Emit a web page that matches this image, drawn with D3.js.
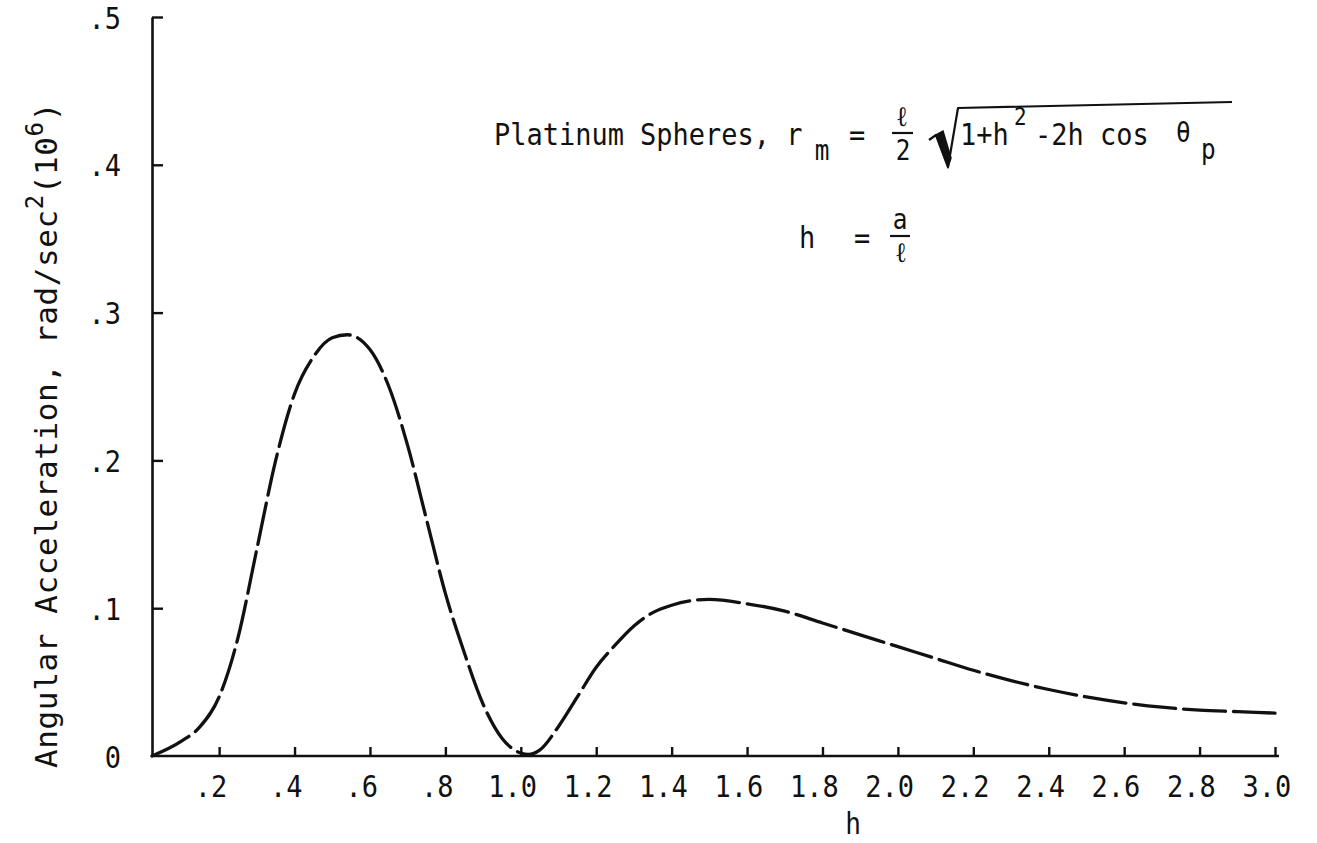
<!DOCTYPE html>
<html><head><meta charset="utf-8">
<script src="https://cdn.jsdelivr.net/npm/d3@7"></script>
<style>body{margin:0;background:#fff}svg{display:block}</style>
</head><body><svg id="c" width="1317" height="843"></svg>
<script>
// ---- data ----
const hValues     = [0.022,0.10,0.15,0.20,0.25,0.30,0.35,0.40,0.45,0.50,0.54,0.60,0.65,0.70,0.75,0.80,0.85,0.90,0.95,1.00,1.02,1.05,1.10,1.15,1.20,1.25,1.30,1.35,1.40,1.45,1.50,1.60,1.70,1.80,1.90,2.00,2.10,2.20,2.30,2.40,2.50,2.60,2.70,2.80,2.90,3.00];
const accelValues = [0.000,0.010,0.020,0.040,0.080,0.140,0.200,0.245,0.270,0.283,0.285,0.275,0.250,0.210,0.160,0.110,0.070,0.035,0.012,0.002,0.001,0.004,0.020,0.040,0.060,0.075,0.088,0.097,0.102,0.105,0.106,0.103,0.098,0.090,0.082,0.074,0.066,0.058,0.051,0.045,0.040,0.036,0.033,0.031,0.030,0.029];
const xTickValues = [0.2,0.4,0.6,0.8,1.0,1.2,1.4,1.6,1.8,2.0,2.2,2.4,2.6,2.8,3.0];
const xTickLabels = [".2",".4",".6",".8","1.0","1.2","1.4","1.6","1.8","2.0","2.2","2.4","2.6","2.8","3.0"];
const yTickValues = [0,0.1,0.2,0.3,0.4,0.5];
const yTickLabels = ["0",".1",".2",".3",".4",".5"];

const FONT = "'DejaVu Sans Mono', monospace";
const INK = "#111";
const SX = 0.87;               // narrow typewriter letters
const svg = d3.select("#c");

const x = d3.scaleLinear().domain([0.022, 3.0]).range([152, 1275]);
const y = d3.scaleLinear().domain([0, 0.5]).range([756, 17]);

// x axis
const xAxis = d3.axisBottom(x).tickValues(xTickValues)
  .tickFormat((d,i)=>xTickLabels[i]).tickSizeInner(-9).tickSizeOuter(0);
const gx = svg.append("g").attr("transform", `translate(0,${y(0)})`).call(xAxis);
gx.select(".domain").attr("d", `M${x.range()[0]},0H${x.range()[1]+4}`);

// y axis
const yAxis = d3.axisLeft(y).tickValues(yTickValues)
  .tickFormat((d,i)=>yTickLabels[i]).tickSizeInner(-11).tickSizeOuter(0).tickPadding(31);
const gy = svg.append("g").attr("transform", `translate(${x.range()[0]},0)`).call(yAxis);

[gx, gy].forEach(g=>{
  g.select(".domain").attr("stroke", INK).attr("stroke-width", 2.6);
  g.selectAll(".tick line").attr("stroke", INK).attr("stroke-width", 2.4);
  g.selectAll(".tick text").attr("fill", INK).style("font-family", FONT).style("font-size", "31px");
});
gx.selectAll(".tick text").attr("y", 41).attr("dy", null).attr("dx", -10)
  .attr("transform", `scale(${SX},1)`);
gy.selectAll(".tick text").attr("dy", "0.36em").attr("transform", `scale(${SX},1)`)
  .attr("x", -31 / SX);
gy.selectAll(".tick").filter(d=>d===0).select("line").remove();

// curve
const pts = hValues.map((h,i)=>[h, accelValues[i]]);
const line = d3.line().x(d=>x(d[0])).y(d=>y(d[1])).curve(d3.curveMonotoneX);
svg.append("path").datum(pts).attr("d", line)
  .attr("fill","none").attr("stroke",INK).attr("stroke-width",3.3)
  .attr("stroke-dasharray","42,8").attr("stroke-linecap","round");

// text helper (narrow letters)
function txt(parent, px, py, s, size, anchor){
  const g = parent.append("g").attr("transform", `translate(${px},${py}) scale(${SX},1)`);
  return g.append("text").attr("text-anchor", anchor||"start")
    .style("font-family",FONT).style("font-size", size+"px").attr("fill",INK).text(s);
}

// axis titles
txt(svg, 853, 834, "h", 30, "middle");

const yt = svg.append("g").attr("transform","translate(57,435) rotate(-90)")
  .append("text").attr("text-anchor","middle").style("letter-spacing","0.6px")
  .style("font-family",FONT).style("font-size","31px").attr("fill",INK);
yt.append("tspan").text("Angular Acceleration, rad/sec");
yt.append("tspan").attr("dy",-14).style("font-size","24px").text("2");
yt.append("tspan").attr("dy",14).text("(10");
yt.append("tspan").attr("dy",-14).style("font-size","24px").text("6");
yt.append("tspan").attr("dy",14).text(")");

// annotation line 1
const A = svg.append("g");
const BL = 145;
txt(A, 494, BL, "Platinum Spheres, r", 31);
txt(A, 822, BL+15, "m", 28, "middle");
txt(A, 857, BL, "=", 31, "middle");
txt(A, 902, BL-19, "ℓ", 28, "middle");
A.append("line").attr("x1",892).attr("x2",913).attr("y1",BL-12).attr("y2",BL-12).attr("stroke",INK).attr("stroke-width",2.2);
txt(A, 903, BL+15, "2", 28, "middle");
// radical sign
A.append("path").attr("d","M929,140 L936,135 L948,167 L958,108 L1232,102")
  .attr("fill","none").attr("stroke",INK).attr("stroke-width",2.2).attr("stroke-linejoin","round");
A.append("path").attr("d","M936,135 L943,131 L951,158 L948,167 Z").attr("fill",INK).attr("stroke",INK).attr("stroke-width",1.5);
txt(A, 960, BL, "1+h", 31);
txt(A, 1014, BL-20, "2", 24);
txt(A, 1035, BL, "-2h cos", 31);
txt(A, 1176, BL-3, "θ", 28);
txt(A, 1201, BL+14, "p", 28);

// annotation line 2
txt(A, 807, 248, "h", 31, "middle");
txt(A, 862, 248, "=", 31, "middle");
txt(A, 900, 229, "a", 28, "middle");
A.append("line").attr("x1",890).attr("x2",910).attr("y1",236).attr("y2",236).attr("stroke",INK).attr("stroke-width",2.2);
txt(A, 901, 262, "ℓ", 28, "middle");
</script></body></html>
